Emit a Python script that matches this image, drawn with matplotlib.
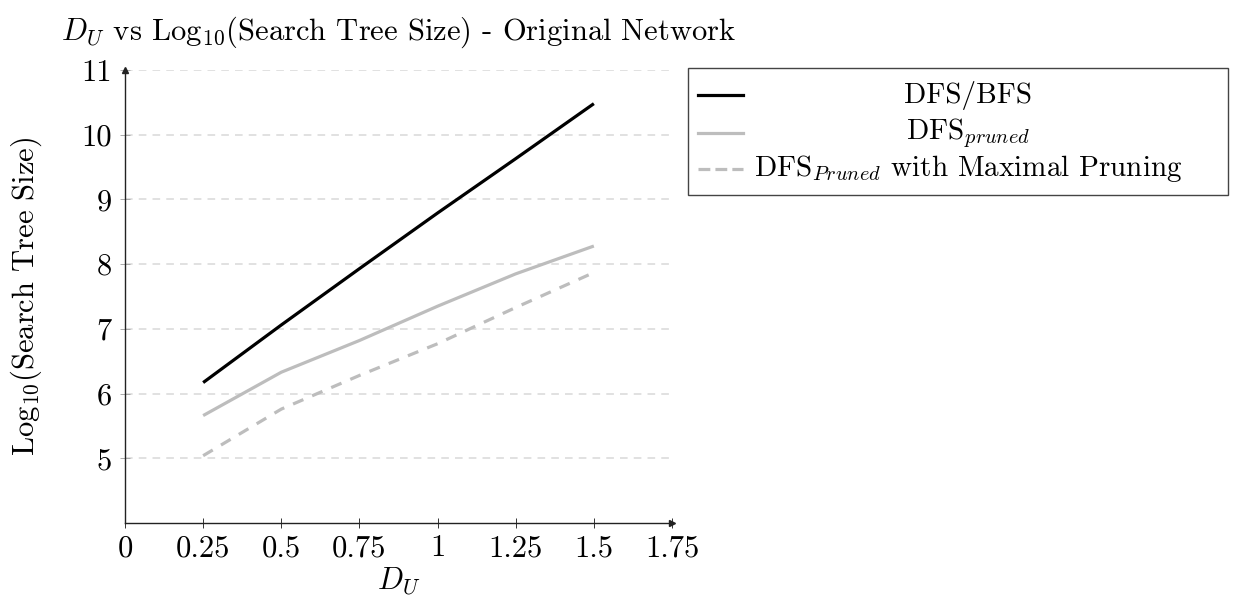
import matplotlib.pyplot as plt
from matplotlib.lines import Line2D
from matplotlib.patches import Rectangle

plt.rcParams["font.family"] = "serif"
plt.rcParams["font.serif"] = ["cmr10", "DejaVu Serif"]
plt.rcParams["mathtext.fontset"] = "cm"
plt.rcParams["axes.unicode_minus"] = False

# data
du = [0.25, 0.5, 0.75, 1.0, 1.25, 1.5]
dfs_bfs = [6.17, 7.06, 7.93, 8.79, 9.63, 10.48]
dfs_pruned = [5.66, 6.33, 6.82, 7.35, 7.85, 8.28]
dfs_maximal = [5.04, 5.76, 6.28, 6.77, 7.33, 7.87]

xticks = [0, 0.25, 0.5, 0.75, 1, 1.25, 1.5, 1.75]
xticklabels = ["0", "0.25", "0.5", "0.75", "1", "1.25", "1.5", "1.75"]
yticks = [5, 6, 7, 8, 9, 10, 11]
labels = ["DFS/BFS", r"DFS$_{pruned}$", r"DFS$_{Pruned}$ with Maximal Pruning"]

W, H = 1233, 607
fig = plt.figure(figsize=(W / 100, H / 100), dpi=100)
ax = fig.add_axes([125 / W, 1 - 523 / H, (672 - 125) / W, (523 - 70) / H])

fs = 22
black = "#000000"
gray = "#bdbdbd"
grid_c = "#d9d9d9"

for y in yticks:
    ax.axhline(y, color=grid_c, lw=1.1, ls=(0, (5, 4)), zorder=0)

l1, = ax.plot(du, dfs_bfs, color=black, lw=2.3, solid_capstyle="butt")
l2, = ax.plot(du, dfs_pruned, color=gray, lw=2.3, solid_capstyle="butt")
l3, = ax.plot(du, dfs_maximal, color=gray, lw=2.3, ls=(0, (3.5, 3)))

ax.set_xlim(0, 1.75)
ax.set_ylim(4, 11)
ax.set_xticks(xticks)
ax.set_xticklabels(xticklabels, fontsize=fs)
ax.set_yticks(yticks)
ax.set_yticklabels([str(v) for v in yticks], fontsize=fs)
ax.tick_params(axis="x", direction="inout", length=7, width=0.7, color="#333333", pad=5)
ax.tick_params(axis="y", direction="inout", length=7, width=0.7, color="#aaaaaa", pad=6)

for s in ["top", "right"]:
    ax.spines[s].set_visible(False)
for s in ["left", "bottom"]:
    ax.spines[s].set_linewidth(1.0)
    ax.spines[s].set_color("#222222")

# axis arrows
ax.plot(1, 0, ">", color="#222222", ms=5, transform=ax.transAxes, clip_on=False)
ax.plot(0, 1, "^", color="#222222", ms=5, transform=ax.transAxes, clip_on=False)

ax.set_xlabel(r"$D_U$", fontsize=fs, labelpad=2)
ax.set_ylabel(r"Log$_{10}$(Search Tree Size)", fontsize=fs, labelpad=27)
ax.set_title(r"$D_U$ vs Log$_{10}$(Search Tree Size) - Original Network",
             fontsize=fs, pad=22)

# legend box drawn like the pgfplots one: centred labels
def fx(px):
    return px / W

def fy(py):
    return 1 - py / H

fig.add_artist(Rectangle((fx(688), fy(195)), fx(1228) - fx(688), fy(68) - fy(195),
                         transform=fig.transFigure, fill=False,
                         edgecolor="#444444", lw=1.0))
rows = [95, 133, 169]
for line, lab, ry in zip([l1, l2, l3], labels, rows):
    fig.add_artist(Line2D([fx(698), fx(743)], [fy(ry), fy(ry)],
                          transform=fig.transFigure, color=line.get_color(),
                          lw=line.get_linewidth(), ls=line.get_linestyle()))
    fig.text(fx(968), fy(ry), lab, fontsize=21, ha="center", va="center")

fig.savefig("out.png", dpi=100)
